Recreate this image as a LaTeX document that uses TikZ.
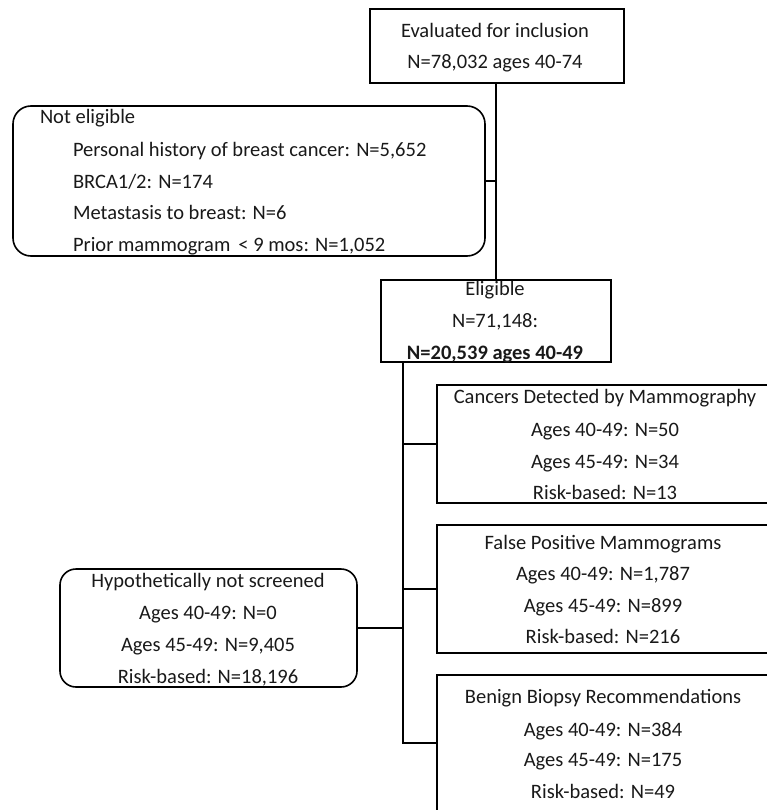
\documentclass[tikz,border=0pt]{standalone}
\usepackage{fontspec}
\setmainfont{Carlito}
\begin{document}
\begin{tikzpicture}[x=1pt,y=-1pt,
  box/.style={draw=black,line width=1.6pt,inner sep=0pt,outer sep=0pt,rectangle},
  rbox/.style={box,rounded corners=18pt},
  txt/.style={inner sep=0pt,outer sep=0pt,anchor=base,text=black!90,font=\fontsize{20.5}{24}\selectfont},
  ltxt/.style={txt,anchor=base west},
  conn/.style={draw=black,line width=1.6pt}]
\useasboundingbox (0,0) rectangle (767,810);
% boxes
\node[box,minimum width=254pt,minimum height=74pt] (top) at (497,46) {};
\node[rbox,minimum width=472pt,minimum height=150pt] (notelig) at (249,181) {};
\node[box,minimum width=230pt,minimum height=82pt] (elig) at (496,321) {};
\node[box,minimum width=338pt,minimum height=118pt] (cancer) at (606,444) {};
\node[box,minimum width=338pt,minimum height=128pt] (fp) at (606,589) {};
\node[box,minimum width=338pt,minimum height=136pt] (benign) at (606,743) {};
\node[rbox,rounded corners=16pt,minimum width=297pt,minimum height=118pt] (hypo) at (208.5,628) {};
% texts
\node[txt] (top1) at (495,37.5) {Evaluated for inclusion};
\node[txt] (top2) at (495,69) {N=78,032 ages 40-74};
\node[ltxt] (ne0) at (40,123.5) {Not eligible};
\node[ltxt] (ne1) at (73,156.5) {Personal history of breast cancer: N=5,652};
\node[ltxt] (ne2) at (73,188.5) {BRCA1/2: N=174};
\node[ltxt] (ne3) at (73,219.5) {Metastasis to breast: N=6};
\node[ltxt] (ne4) at (73,251.5) {Prior mammogram \,< 9 mos: N=1,052};
\node[txt] (el1) at (495,295.5) {Eligible};
\node[txt] (el2) at (495,327.5) {N=71,148:};
\node[txt,font=\fontsize{20.5}{24}\selectfont\bfseries] (el3) at (495,359.5) {N=20,539 ages 40-49};
\node[txt] (ca1) at (605,403.5) {Cancers Detected by Mammography};
\node[txt] (ca2) at (605,436.5) {Ages 40-49: N=50};
\node[txt] (ca3) at (605,468.5) {Ages 45-49: N=34};
\node[txt] (ca4) at (605,499.5) {Risk-based: N=13};
\node[txt] (fp1) at (603,549.5) {False Positive Mammograms};
\node[txt] (fp2) at (603,580.5) {Ages 40-49: N=1,787};
\node[txt] (fp3) at (603,612.5) {Ages 45-49: N=899};
\node[txt] (fp4) at (603,643.5) {Risk-based: N=216};
\node[txt] (bb1) at (603,703.5) {Benign Biopsy Recommendations};
\node[txt] (bb2) at (603,736.5) {Ages 40-49: N=384};
\node[txt] (bb3) at (603,766.5) {Ages 45-49: N=175};
\node[txt] (bb4) at (603,798.5) {Risk-based: N=49};
\node[txt] (hy1) at (208,587.5) {Hypothetically not screened};
\node[txt] (hy2) at (208,619.5) {Ages 40-49: N=0};
\node[txt] (hy3) at (208,651.5) {Ages 45-49: N=9,405};
\node[txt] (hy4) at (208,683.5) {Risk-based: N=18,196};
% connectors
\draw[conn] (elig.north) -- (elig.north |- top.south);
\draw[conn] (notelig.east) -- (notelig.east -| elig.north);
\coordinate (tTop) at ([xshift=22pt]elig.south west);
\coordinate (tBot) at (tTop |- benign.west);
\draw[conn] (tTop) -- (tBot) -- (benign.west);
\draw[conn] (tTop |- cancer.west) -- (cancer.west);
\draw[conn] (tTop |- fp.west) -- (fp.west);
\draw[conn] (hypo.east) -- (hypo.east -| tTop);
\end{tikzpicture}
\end{document}
